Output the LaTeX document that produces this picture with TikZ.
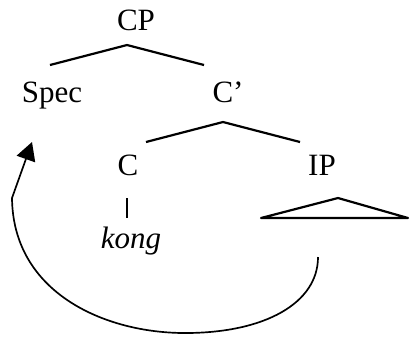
\documentclass[tikz,border=0pt]{standalone}
\usepackage{fontspec}
\setmainfont{Liberation Serif}
\usetikzlibrary{arrows.meta}
\tikzset{
  lbl/.style={anchor=base,inner sep=0pt,font=\fontsize{12}{14}\selectfont},
  branch/.style={line width=0.85pt,line join=round},
  move/.style={line width=0.65pt,-{Triangle[length=7pt,width=7.5pt]}}
}
\begin{document}
\begin{tikzpicture}[x=0.387pt,y=0.387pt]
  \useasboundingbox (0,0) rectangle (410,338);
  \node[lbl] (cp) at (136,308) {CP};
  \node[lbl] (spec) at (52,236) {Spec};
  \node[lbl] (cbar) at (228,236) {C’};
  \node[lbl] (c) at (128,163) {C};
  \node[lbl] (ip) at (322,163) {IP};
  \node[lbl] (kong) at (131,90) {\itshape kong};
  \coordinate (cp-top) at (127,293);
  \coordinate (cp-l) at (50,273);
  \coordinate (cp-r) at (204,273);
  \coordinate (cbar-top) at (223,216);
  \coordinate (cbar-l) at (146,196);
  \coordinate (cbar-r) at (300,196);
  \coordinate (c-top) at (127,140);
  \coordinate (c-bot) at (127,120);
  \coordinate (ip-top) at (338,140);
  \coordinate (ip-l) at (261,120);
  \coordinate (ip-r) at (408,120);
  \draw[branch] (cp-l) -- (cp-top) -- (cp-r);
  \draw[branch] (cbar-l) -- (cbar-top) -- (cbar-r);
  \draw[branch] (c-top) -- (c-bot);
  \draw[branch] (ip-l) -- (ip-top) -- (ip-r) -- cycle;
  \coordinate (mv-start) at (318,81);
  \coordinate (mv-low) at (185,5);
  \coordinate (mv-kink) at (12,140);
  \coordinate (mv-tip) at (32,196);
  \draw[move] (mv-start) .. controls (318,35) and (265,5) .. (mv-low)
    .. controls (105,5) and (13,45) .. (mv-kink) -- (mv-tip);
\end{tikzpicture}
\end{document}
